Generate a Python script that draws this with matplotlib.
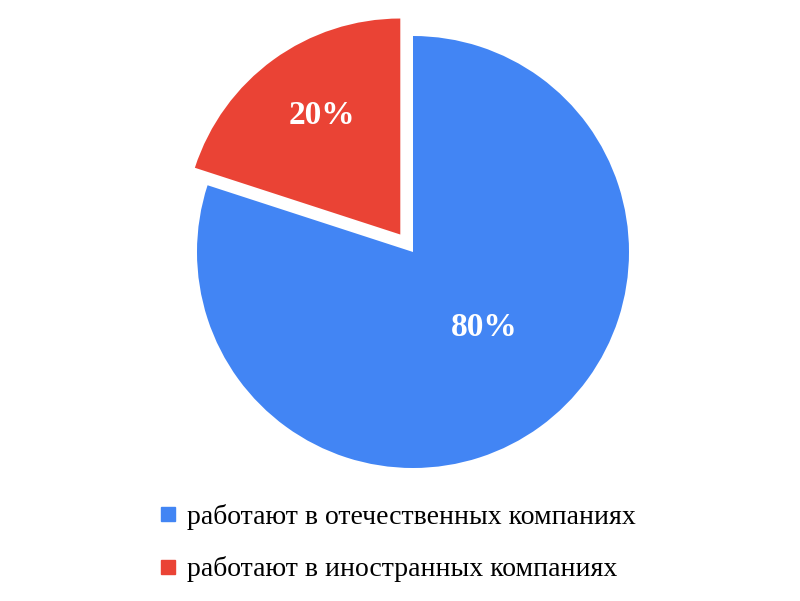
import matplotlib.pyplot as plt
from matplotlib.lines import Line2D

labels = ["работают в отечественных компаниях", "работают в иностранных компаниях"]
values = [80, 20]
colors = ["#4285F4", "#EA4335"]
explode = [0, 0.1]

plt.rcParams['font.family'] = ['Liberation Serif', 'DejaVu Serif']

fig = plt.figure(figsize=(8, 6.01), dpi=100)
R = 216
cx, cy = 413, 252
ax = fig.add_axes([(cx - R) / 800, (601 - cy - R) / 601, 2 * R / 800, 2 * R / 601])

wedges, _, autotexts = ax.pie(values, colors=colors, explode=explode, startangle=90,
                              counterclock=False, radius=1, autopct="%d%%",
                              pctdistance=0.6, wedgeprops=dict(linewidth=0),
                              textprops=dict(color="white", fontsize=24, fontweight="bold"))
ax.set_xlim(-1, 1); ax.set_ylim(-1, 1)
ax.axis("off")
for w in wedges:
    w.set_clip_on(False)
# nudge labels to match the reference positions
autotexts[0].set_position((0.33, -0.35))
autotexts[1].set_position((-0.42, 0.63))

handles = [Line2D([], [], ls="none", marker="s", markersize=10.5, color=c) for c in colors]
fig.legend(handles, labels, loc="upper left", bbox_to_anchor=(0.184, 0.18),
           frameon=False, fontsize=20, handlelength=0.7, handletextpad=0.32,
           labelspacing=0.95, borderaxespad=0)

plt.savefig("out.png", dpi=100)
